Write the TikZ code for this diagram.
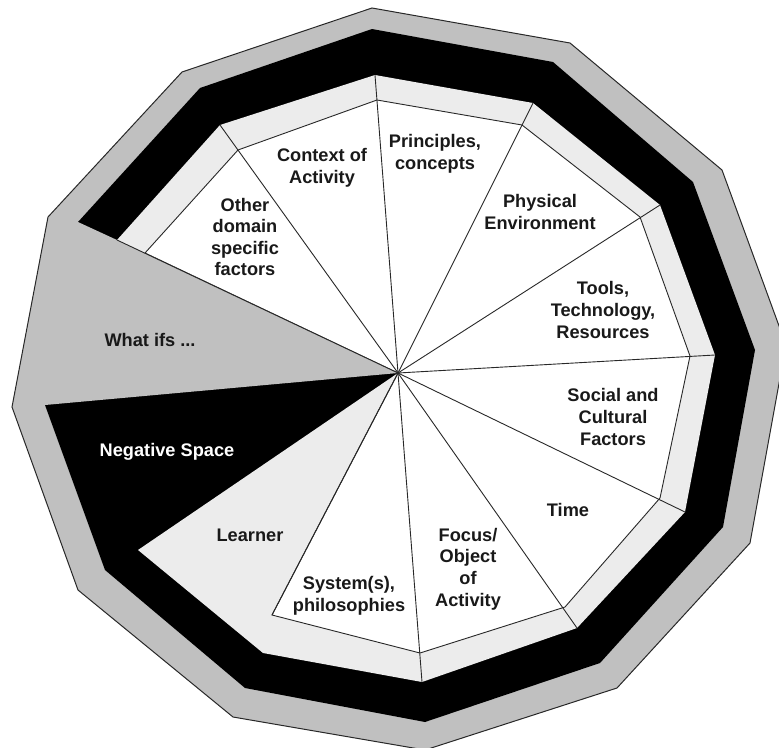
\documentclass[tikz,border=0pt]{standalone}
\usepackage{fontspec}
\setmainfont{Liberation Sans}
\definecolor{ringgray}{RGB}{192,192,192}
\definecolor{bandgray}{RGB}{236,236,236}
\definecolor{edgecol}{RGB}{40,40,40}
\begin{document}
\begin{tikzpicture}[x=1pt,y=-1pt,
  lbl/.style={font=\bfseries\fontsize{18.2}{21.6}\selectfont, align=center, inner sep=0pt, text=black!90},
  edgeline/.style={draw=edgecol, line width=0.9pt},
  outline/.style={draw=edgecol, line width=1pt}]
\useasboundingbox (0,0) rectangle (779,747);
\clip (0,0) rectangle (779,747);
% centre
\coordinate (C) at (398,373);
% outer gray polygon
\coordinate (O1) at (372,8);   \coordinate (O2) at (570,43);
\coordinate (O3) at (722,170); \coordinate (O4) at (786,345);
\coordinate (O5) at (750,543); \coordinate (O6) at (617,688);
\coordinate (O7) at (425,750); \coordinate (O8) at (233,717);
\coordinate (O9) at (78,590);  \coordinate (O10) at (12,407);
\coordinate (O11) at (48,217); \coordinate (O12) at (182,72);
% black ring outer
\coordinate (B1) at (372,29);  \coordinate (B2) at (553,62);
\coordinate (B3) at (693,182); \coordinate (B4) at (755,350);
\coordinate (B5) at (723,527); \coordinate (B6) at (600,663);
\coordinate (B7) at (425,722); \coordinate (B8) at (245,688);
\coordinate (B9) at (105,570); \coordinate (B10) at (45,405);
\coordinate (B11) at (78,222); \coordinate (B12) at (200,88);
% black ring inner (spoke ends)
\coordinate (I1) at (375,75);  \coordinate (I2) at (533,103);
\coordinate (I3) at (660,205); \coordinate (I4) at (715,355);
\coordinate (I5) at (685,512); \coordinate (I6) at (577,628);
\coordinate (I7) at (422,682); \coordinate (I8) at (263,653);
\coordinate (I9) at (138,550); \coordinate (I11) at (117,240);
\coordinate (I12) at (220,125);
% white polygon
\coordinate (W1) at (377,100); \coordinate (W2) at (522,125);
\coordinate (W3) at (640,217); \coordinate (W4) at (690,356);
\coordinate (W5) at (660,498); \coordinate (W6) at (565,607);
\coordinate (W7) at (420,653); \coordinate (W8) at (272,615);
\coordinate (W11) at (145,253); \coordinate (W12) at (238,150);

% outer gray ring
\fill[ringgray] (O1) -- (O2) -- (O3) -- (O4) -- (O5) -- (O6) -- (O7) -- (O8) -- (O9) -- (O10) -- (O11) -- (O12) -- cycle;
% black ring (and negative space)
\fill[black] (B1) -- (B2) -- (B3) -- (B4) -- (B5) -- (B6) -- (B7) -- (B8) -- (B9) -- (B10) -- (B11) -- (B12) -- cycle;
% light gray band (and learner)
\fill[bandgray] (I1) -- (I2) -- (I3) -- (I4) -- (I5) -- (I6) -- (I7) -- (I8) -- (I9) -- (C) -- (I11) -- (I12) -- cycle;
% white inner polygon
\filldraw[fill=white, edgeline] (W1) -- (W2) -- (W3) -- (W4) -- (W5) -- (W6) -- (W7) -- (W8) -- (C) -- (W11) -- (W12) -- cycle;
% what ifs wedge
\fill[ringgray] (C) -- (I11) -- (B11) -- (O11) -- (O10) -- (B10) -- cycle;
% outer outline
\draw[outline] (O1) -- (O2) -- (O3) -- (O4) -- (O5) -- (O6) -- (O7) -- (O8) -- (O9) -- (O10) -- (O11) -- (O12) -- cycle;
% spokes
\foreach \p in {I1,I2,I3,I4,I5,I6,I7,I11,I12,W8}
  \draw[edgeline] (C) -- (\p);

% labels
\node[lbl] (ctx) at (322,168) {Context of\\Activity};
\node[lbl] (pri) at (435,154) {Principles,\\concepts};
\node[lbl] (phy) at (540,212) {Physical\\Environment};
\node[lbl] (too) at (603,310) {Tools,\\Technology,\\Resources};
\node[lbl] (soc) at (613,417) {Social and\\Cultural\\Factors};
\node[lbl] (tim) at (568,510) {Time};
\node[lbl] (foc) at (468,569) {Focus/\\Object\\of\\Activity};
\node[lbl] (sys) at (349,596) {System(s),\\philosophies};
\node[lbl] (lea) at (250,535) {Learner};
\node[lbl, text=white] (neg) at (167,452) {Negative Space};
\node[lbl] (wha) at (150,340) {What ifs ...};
\node[lbl] (oth) at (245,237) {Other\\domain\\specific\\factors};
\end{tikzpicture}
\end{document}
